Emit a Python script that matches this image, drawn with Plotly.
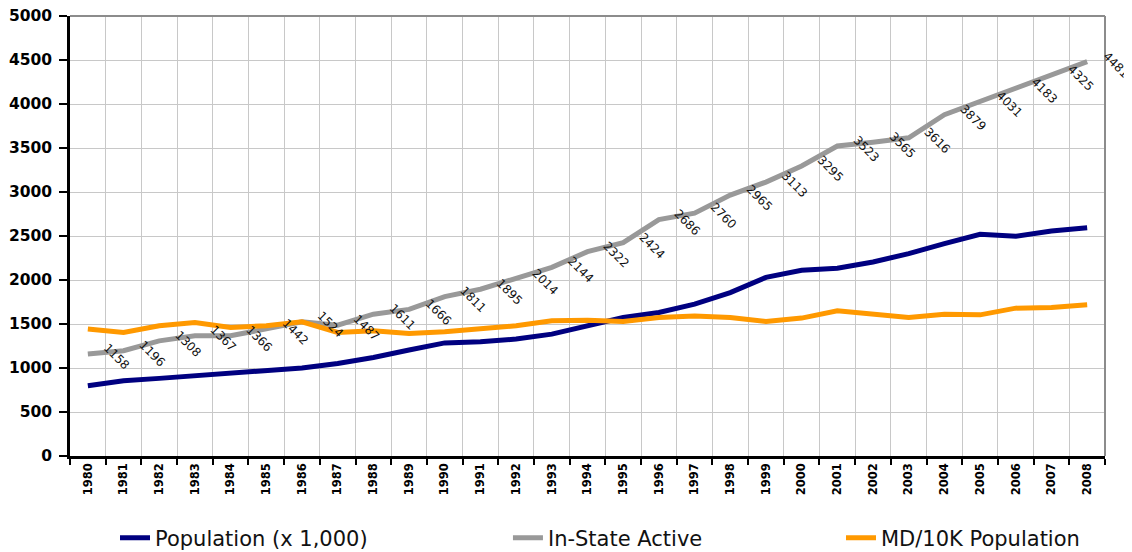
import plotly.graph_objects as go

years = [str(y) for y in range(1980, 2009)]

population = [799, 856, 882, 909, 935, 961, 1000, 1052, 1120, 1204, 1285, 1298, 1329, 1385,
              1480, 1574, 1631, 1726, 1857, 2030, 2111, 2134, 2205, 2300, 2413, 2519, 2497,
              2557, 2594]

in_state_active = [1158, 1196, 1308, 1367, 1366, 1442, 1524, 1487, 1611, 1666, 1811, 1895,
                   2014, 2144, 2322, 2424, 2686, 2760, 2965, 3113, 3295, 3523, 3565, 3616,
                   3879, 4031, 4183, 4325, 4481]

md_per_10k = [1442, 1404, 1480, 1517, 1460, 1480, 1525, 1404, 1423, 1393, 1411, 1442, 1480,
              1536, 1544, 1528, 1574, 1590, 1574, 1528, 1567, 1650, 1612, 1574, 1612, 1604,
              1680, 1687, 1718]

series_names = ["Population (x 1,000)", "In-State Active", "MD/10K Population"]
colors = ["#000080", "#999999", "#FF9900"]

fig = go.Figure()
for name, vals, col, lg in zip(series_names, [population, in_state_active, md_per_10k],
                               colors, ["legend", "legend2", "legend3"]):
    fig.add_trace(go.Scatter(x=years, y=vals, mode="lines", name=name,
                             line=dict(color=col, width=5), legend=lg))

for i, v in enumerate(in_state_active):
    fig.add_annotation(x=i, y=v, text=str(v), showarrow=False, textangle=45,
                       xshift=29, yshift=-3,
                       font=dict(family="DejaVu Sans", size=12, color="#111111"))

# gray top & right border
fig.add_shape(type="line", xref="paper", yref="paper", x0=0, x1=1, y0=1, y1=1,
              line=dict(color="#8c8c8c", width=2))
fig.add_shape(type="line", xref="paper", yref="paper", x0=1, x1=1, y0=0, y1=1,
              line=dict(color="#8c8c8c", width=2))

legend_common = dict(orientation="h", yanchor="middle", y=0.0257, yref="container",
                     xanchor="left", xref="container",
                     bgcolor="rgba(0,0,0,0)",
                     font=dict(family="DejaVu Sans", size=21, color="#111111"))

fig.update_layout(
    width=1124, height=544,
    margin=dict(l=62, r=27, t=8, b=96, autoexpand=False),
    plot_bgcolor="white", paper_bgcolor="white",
    showlegend=True,
    legend=dict(x=0.0952, **legend_common),
    legend2=dict(x=0.4448, **legend_common),
    legend3=dict(x=0.7411, **legend_common),
    xaxis=dict(type="category", categoryorder="array", categoryarray=years,
               range=[-0.5, len(years) - 0.5], automargin=False,
               tickson="boundaries", ticks="outside", ticklen=6, tickwidth=2,
               tickcolor="black", showline=True, linecolor="black", linewidth=2.5,
               showgrid=True, gridcolor="#c8c8c8", gridwidth=1, tickangle=-90,
               ticklabeloverflow="allow",
               tickfont=dict(family="DejaVu Sans", size=11.5, color="black", weight="bold")),
    yaxis=dict(range=[0, 5000], dtick=500, ticks="outside", ticklen=8, tickwidth=2,
               tickcolor="black", showline=True, linecolor="black", linewidth=2.5,
               showgrid=True, gridcolor="#c8c8c8", gridwidth=1, zeroline=False,
               ticklabelstandoff=4, automargin=False, ticklabeloverflow="allow",
               tickfont=dict(family="DejaVu Sans", size=15.5, color="black", weight="bold")),
)

fig.write_html("out.html")
